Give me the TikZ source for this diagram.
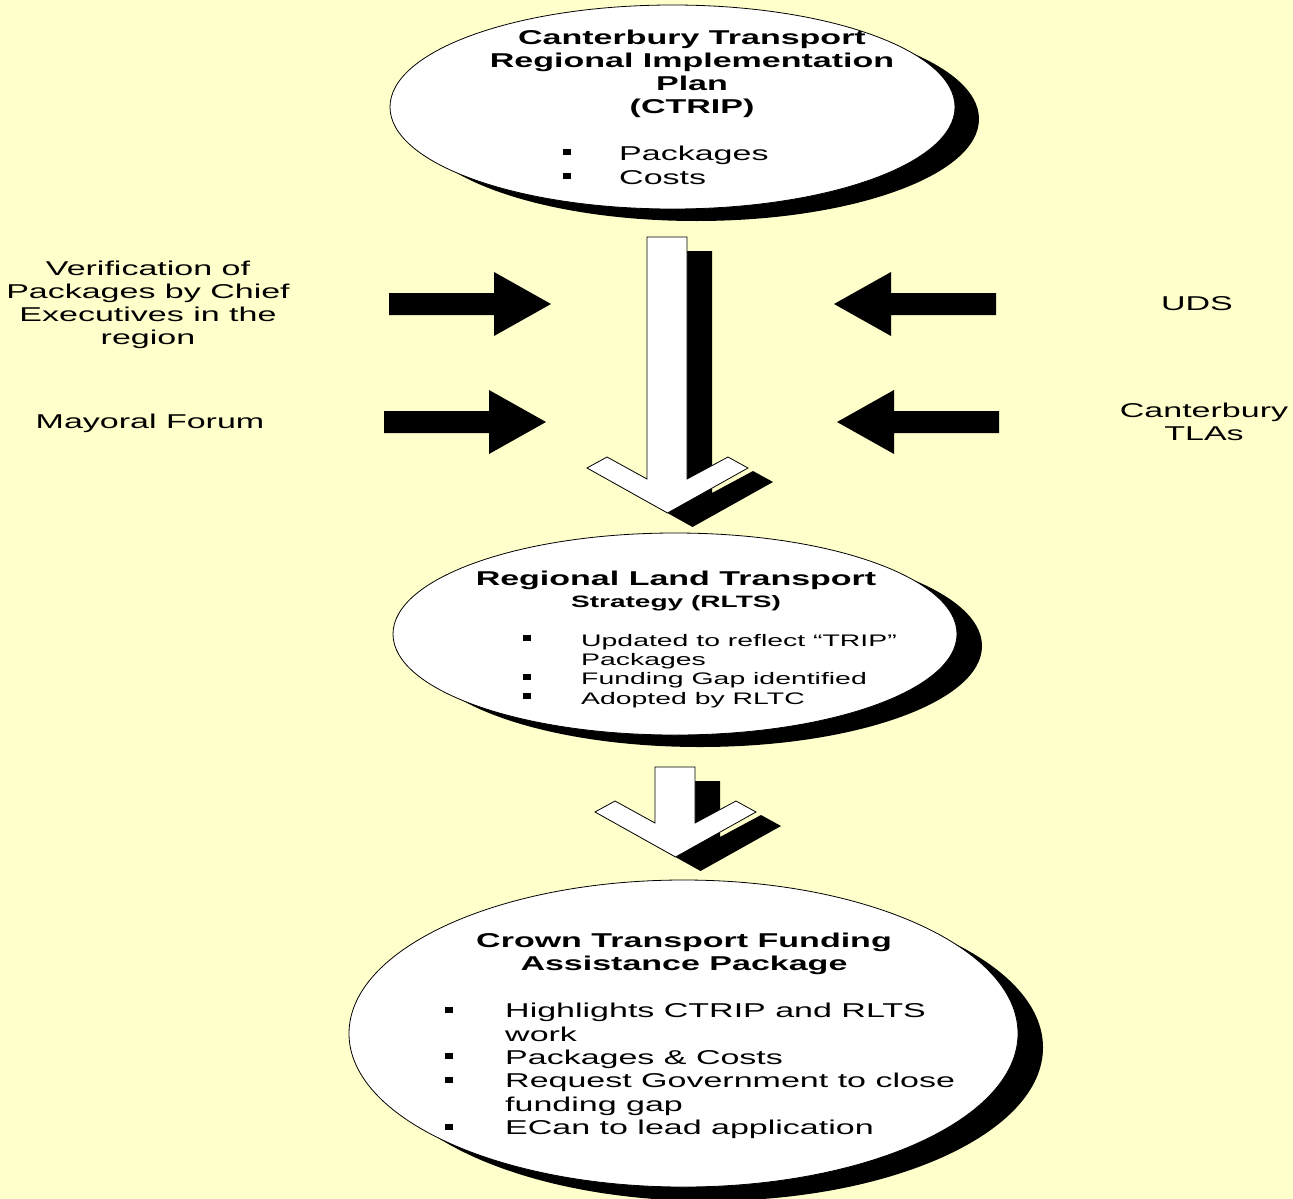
\documentclass[tikz,border=0pt]{standalone}
\usepackage{fontspec}
\setmainfont{Liberation Sans}[FakeStretch=1.7]
\usetikzlibrary{shapes.geometric,shadows}
\definecolor{bg}{RGB}{255,255,204}
\newcommand\bul[1][56pt]{\makebox[#1][l]{\rule[5pt]{8pt}{6pt}}}
\tikzset{
  oval/.style={ellipse, draw=black, line width=0.8pt, fill=white, inner sep=0pt},
  shad/.style={drop shadow={shadow xshift=#1, shadow yshift=-12pt, fill=black, opacity=1}},
  titletext/.style={font=\bfseries\fontsize{20}{23}\selectfont, align=center, inner sep=0pt},
  bodytext/.style={font=\fontsize{20}{23.4}\selectfont, align=left, inner sep=0pt},
  smalltext/.style={font=\fontsize{16.7}{19.3}\selectfont, align=left, inner sep=0pt},
  sidetext/.style={font=\fontsize{20}{23}\selectfont, align=center, inner sep=0pt},
  pics/downblock/.style={code={
    \fill[black] (25,14) -- ++(40,0) -- ++(0,#1) -- ++(41,-22) -- ++(20,11)
       -- ++(-80.5,45) -- ++(-80.5,-45) -- ++(20,-11) -- ++(40,22) -- cycle;
    \filldraw[fill=white, draw=black, line width=0.8pt, line join=miter]
       (0,0) -- (40,0) -- (40,{#1}) -- (81,{#1-22}) -- (101,{#1-11})
       -- (20.5,{#1+34}) -- (-60,{#1-11}) -- (-40,{#1-22}) -- (0,{#1}) -- cycle;
  }},
  pics/rightblock/.style={code={
    \fill[black] (0,0) -- (-57,-32) -- (-57,-11) -- (-162,-11) -- (-162,11)
       -- (-57,11) -- (-57,32) -- cycle;
  }}
}
\begin{document}
\begin{tikzpicture}[x=1pt,y=-1pt]
\useasboundingbox[fill=bg] (0,0) rectangle (1293,1199);

% ellipses
\node[oval, shad=24pt, minimum width=565pt, minimum height=204pt] (ctrip) at (672.5,107) {};
\node[oval, shad=25pt, minimum width=564pt, minimum height=202pt] (rlts) at (675,634) {};
\node[oval, drop shadow={shadow xshift=25pt, shadow yshift=-14pt, fill=black, opacity=1},
      minimum width=669pt, minimum height=307pt] (crown) at (683.5,1033.5) {};

% texts in ellipses
\node[titletext] (t1) at (692,74) {Canterbury Transport\\Regional Implementation\\Plan\\(CTRIP)};
\node[bodytext, anchor=west, font=\fontsize{20}{24}\selectfont] (b1) at (563,165) {\bul Packages\\\bul Costs};

\node[titletext] (t2) at (676,591) {Regional Land Transport\\[-1pt]{\fontsize{16.5}{19}\selectfont Strategy (RLTS)}};
\node[smalltext, anchor=west] (b2) at (523,671) {\bul[58pt]Updated to reflect “TRIP”\\\hspace*{58pt}Packages\\\bul[58pt]Funding Gap identified\\\bul[58pt]Adopted by RLTC};

\node[titletext] (t3) at (684,954) {Crown Transport Funding\\Assistance Package};
\node[bodytext, anchor=west] (b3) at (445,1071) {\bul[60pt]Highlights CTRIP and RLTS\\\hspace*{60pt}work\\\bul[60pt]Packages \& Costs\\\bul[60pt]Request Government to close\\\hspace*{60pt}funding gap\\\bul[60pt]ECan to lead application};

% side texts
\node[sidetext] (verif) at (148,305) {Verification of\\Packages by Chief\\Executives in the\\region};
\node[sidetext] (mayor) at (150,423) {Mayoral Forum};
\node[sidetext] (uds) at (1197,304) {UDS};
\node[sidetext] (tla) at (1204,422) {Canterbury\\TLAs};

% block arrows
\pic (down1) at (647,237) {downblock=242};
\pic (down2) at (655,767) {downblock=56};
\pic (in1) at (551,304) {rightblock};
\pic (in2) at (546,422) {rightblock};
\pic[xscale=-1] (in3) at (834,304) {rightblock};
\pic[xscale=-1] (in4) at (837,422) {rightblock};
\end{tikzpicture}
\end{document}
